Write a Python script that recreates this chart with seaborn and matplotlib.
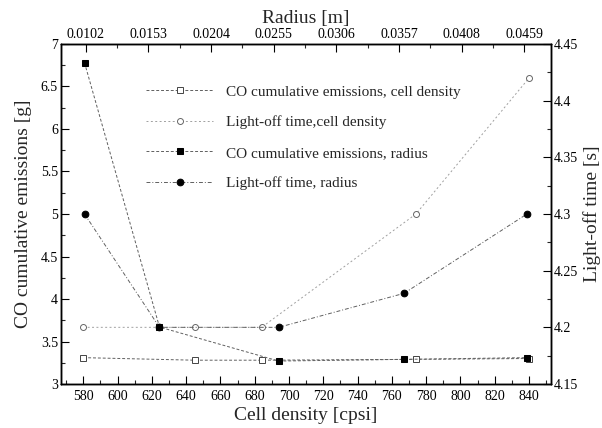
import matplotlib
matplotlib.use("Agg")
import matplotlib.pyplot as plt
from matplotlib.ticker import MultipleLocator, FixedLocator, FormatStrFormatter, FuncFormatter
import seaborn as sns

# Cell-density sweep (bottom axis)
cell_density = [580, 645, 684, 774, 840]
co_cell = [3.31, 3.28, 3.28, 3.29, 3.30]
lightoff_cell = [4.20, 4.20, 4.20, 4.30, 4.42]

# Radius sweep (top axis)
radius = [0.0101, 0.0162, 0.0259, 0.0361, 0.0461]
co_radius = [6.78, 3.67, 3.27, 3.29, 3.31]
lightoff_radius = [4.30, 4.20, 4.20, 4.23, 4.30]

radius_ticks = [0.0102, 0.0153, 0.0204, 0.0255, 0.0306, 0.0357, 0.0408, 0.0459]

sns.set_style("ticks")
plt.rcParams["font.family"] = ["Liberation Serif", "DejaVu Serif"]

fig = plt.figure(figsize=(6.02, 4.28), dpi=100)
ax = fig.add_axes([0.1008, 0.1028, 0.8145, 0.7944])
ax_r = ax.twinx()
ax_t = ax.twiny()
ax_tr = ax_r.twiny()

XLIM = (566.8, 852.8)
RLIM = (0.00816, 0.04806)
ax.set_xlim(*XLIM)
ax.set_ylim(3, 7)
ax_r.set_ylim(4.15, 4.45)
ax_t.set_xlim(*RLIM)
ax_tr.set_xlim(*RLIM)
ax_t.set_ylim(3, 7)

lw = 0.7
ms = 4.3
dark = "#606060"
light = "#a0a0a0"

sns.lineplot(x=cell_density, y=co_cell, ax=ax, color=dark, lw=lw,
             linestyle=(0, (3, 2)), marker="s", markersize=ms,
             markerfacecolor="white", markeredgecolor="#444444", markeredgewidth=0.7)
h1 = ax.lines[-1]
sns.lineplot(x=cell_density, y=lightoff_cell, ax=ax_r, color=light, lw=lw,
             linestyle=(0, (2, 2.5)), marker="o", markersize=ms,
             markerfacecolor="white", markeredgecolor="#666666", markeredgewidth=0.7)
h2 = ax_r.lines[-1]
sns.lineplot(x=radius, y=co_radius, ax=ax_t, color=dark, lw=lw,
             linestyle=(0, (3, 2)), marker="s", markersize=ms,
             markerfacecolor="black", markeredgecolor="black")
h3 = ax_t.lines[-1]
sns.lineplot(x=radius, y=lightoff_radius, ax=ax_tr, color=dark, lw=lw,
             linestyle=(0, (4, 2, 1, 2)), marker="o", markersize=ms + 0.5,
             markerfacecolor="black", markeredgecolor="black")
h4 = ax_tr.lines[-1]

for a in (ax, ax_r, ax_t, ax_tr):
    if a.get_legend() is not None:
        a.get_legend().remove()
    a.patch.set_visible(False)

tick_kw = dict(direction="in", labelsize=10, width=0.8, colors="black")
# bottom / left
ax.xaxis.set_major_locator(MultipleLocator(20))
ax.xaxis.set_minor_locator(MultipleLocator(10))
ax.yaxis.set_major_locator(MultipleLocator(0.5))
ax.yaxis.set_minor_locator(MultipleLocator(0.25))
ax.yaxis.set_major_formatter(FuncFormatter(lambda v, p: f"{v:g}"))
ax.tick_params(which="major", length=6, **tick_kw)
ax.tick_params(which="minor", length=3, direction="in", width=0.8)
ax.tick_params(axis="x", pad=4)
ax.tick_params(axis="y", pad=2)

# right
ax_r.yaxis.set_major_locator(MultipleLocator(0.05))
ax_r.yaxis.set_minor_locator(MultipleLocator(0.025))
ax_r.yaxis.set_major_formatter(FuncFormatter(lambda v, p: f"{v:g}"))
ax_r.tick_params(which="major", length=6, pad=2, **tick_kw)
ax_r.tick_params(which="minor", length=3, direction="in", width=0.8)

# top
ax_t.xaxis.set_major_locator(FixedLocator(radius_ticks))
ax_t.xaxis.set_minor_locator(FixedLocator([t + 0.00255 for t in radius_ticks]))
ax_t.xaxis.set_major_formatter(FormatStrFormatter("%.4f"))
ax_t.tick_params(which="major", length=6, pad=2, **tick_kw)
ax_t.tick_params(which="minor", length=3, direction="in", width=0.8)
ax_t.yaxis.set_visible(False)

ax_tr.xaxis.set_visible(False)
ax_tr.yaxis.set_visible(False)

for a in (ax, ax_r, ax_t, ax_tr):
    for s in a.spines.values():
        s.set_linewidth(0.9)
        s.set_color("black")

ax.set_xlabel("Cell density [cpsi]", fontsize=14, labelpad=3)
ax.set_ylabel("CO cumulative emissions [g]", fontsize=14, labelpad=6)
ax_r.set_ylabel("Light-off time [s]", fontsize=14, labelpad=4)
ax_t.set_xlabel("Radius [m]", fontsize=14, labelpad=4)

labels = ["CO cumulative emissions, cell density",
          "Light-off time,cell density",
          "CO cumulative emissions, radius",
          "Light-off time, radius"]
leg = ax_tr.legend([h1, h2, h3, h4], labels, loc="upper left",
                   bbox_to_anchor=(146 / 602, 1 - 85 / 428),
                   bbox_transform=fig.transFigure, frameon=False,
                   fontsize=11, handlelength=4.4, handletextpad=0.85,
                   labelspacing=1.1, borderpad=0, borderaxespad=0)

fig.savefig("out.png", dpi=100)
